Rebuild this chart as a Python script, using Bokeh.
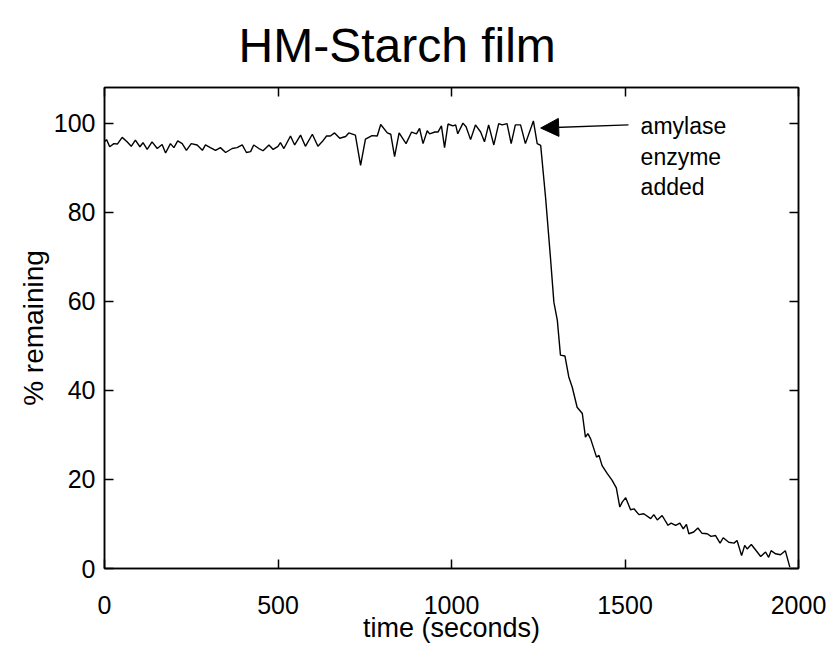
from bokeh.plotting import figure
from bokeh.models import LinearAxis, FixedTicker, Range1d, Arrow, NormalHead, Label
from bokeh.embed import file_html
from bokeh.resources import INLINE

time_s = [0, 6, 15, 27, 37, 51, 65, 77, 89, 102, 111, 123, 137, 152, 166, 176, 190, 200, 211, 224,
          236, 250, 267, 282, 291, 305, 320, 334, 349, 368, 382, 397, 409, 421, 430, 445, 457, 474,
          486, 500, 507, 517, 536, 548, 565, 579, 599, 615, 627, 640, 651, 663, 678, 695, 704, 723,
          738, 752, 771, 786, 796, 815, 825, 836, 849, 869, 885, 899, 908, 918, 930, 937, 952, 961,
          971, 980, 990, 1004, 1012, 1018, 1033, 1042, 1055, 1069, 1084, 1095, 1107, 1122, 1136,
          1146, 1160, 1172, 1184, 1199, 1213, 1236, 1247, 1257, 1271, 1285, 1295, 1305, 1314, 1327,
          1338, 1348, 1362, 1377, 1386, 1393, 1401, 1418, 1425, 1434, 1449, 1463, 1475, 1485, 1492,
          1502, 1516, 1526, 1540, 1554, 1574, 1583, 1593, 1607, 1624, 1633, 1646, 1658, 1668, 1677,
          1684, 1698, 1710, 1722, 1737, 1748, 1761, 1774, 1783, 1799, 1814, 1823, 1836, 1845, 1852,
          1864, 1876, 1891, 1905, 1914, 1921, 1934, 1948, 1962, 1975]
pct_remaining = [95.8, 96.3, 94.7, 95.4, 95.3, 96.8, 95.8, 94.8, 96.2, 94.7, 95.6, 94.1, 95.8, 94.3,
                 95.2, 93.3, 95.4, 94.5, 96.0, 95.4, 93.9, 95.4, 95.1, 93.9, 95.1, 94.5, 93.9, 94.5,
                 93.4, 94.3, 94.5, 95.1, 93.4, 93.6, 95.1, 94.3, 93.8, 95.1, 94.1, 94.8, 95.6, 94.3,
                 97.1, 95.1, 97.3, 94.8, 97.5, 94.8, 95.8, 97.1, 97.1, 97.8, 96.6, 97.0, 97.8, 97.3,
                 90.5, 96.4, 97.2, 97.1, 99.7, 97.8, 97.5, 92.5, 97.8, 95.4, 98.0, 97.6, 98.8, 95.4,
                 98.3, 97.6, 98.0, 98.0, 99.4, 94.5, 99.8, 99.4, 99.6, 97.6, 100.0, 99.2, 96.3, 99.6,
                 98.0, 95.8, 99.6, 95.1, 99.9, 99.6, 99.9, 95.4, 99.6, 99.6, 95.4, 100.5, 95.4, 95.0,
                 83.4, 70.0, 59.8, 55.7, 47.9, 47.7, 43.0, 40.7, 36.2, 34.8, 29.5, 30.3, 29.1, 25.0,
                 25.4, 23.1, 21.3, 19.8, 18.1, 13.8, 14.9, 15.9, 13.2, 13.4, 12.1, 12.3, 11.2, 12.1,
                 10.9, 11.9, 9.7, 10.2, 9.7, 10.2, 8.9, 9.9, 7.8, 8.2, 9.1, 7.9, 7.8, 7.2, 7.4, 5.7,
                 6.9, 5.9, 5.7, 6.3, 2.9, 5.2, 4.4, 5.4, 4.2, 2.7, 3.7, 2.5, 4.0, 3.3, 3.1, 4.0, 0.3]

x_ticks = [0, 500, 1000, 1500, 2000]
y_ticks = [0, 20, 40, 60, 80, 100]
title_text = "HM-Starch film"
x_label = "time (seconds)"
y_label = "% remaining"
note_lines = ["amylase", "enzyme", "added"]
note_pos = (1545, 99.3)
arrow_from = (1510, 99.6)
arrow_to = (1257, 98.9)

FONT = "Liberation Sans"

p = figure(width=827, height=645, output_backend="svg", toolbar_location=None,
           x_range=Range1d(0, 2000), y_range=Range1d(0, 108),
           min_border_left=104, min_border_right=29, min_border_top=87, min_border_bottom=77,
           title=title_text)

p.title.text_font = FONT
p.title.text_font_size = "48px"
p.title.text_font_style = "normal"
p.title.text_color = "black"
p.title.align = "left"
p.title.vertical_align = "top"
p.title.offset = 134
p.title.standoff = 28

p.xgrid.visible = False
p.ygrid.visible = False
p.outline_line_color = "black"
p.outline_line_width = 1.5
p.background_fill_color = "white"
p.border_fill_color = "white"

p.line(time_s, pct_remaining, line_color="black", line_width=1.4)

def style(ax, ticks, labels=True):
    ax.ticker = FixedTicker(ticks=ticks)
    ax.major_tick_in = 9
    ax.major_tick_out = 0
    ax.minor_tick_line_color = None
    ax.axis_line_color = "black"
    ax.axis_line_width = 1.5
    ax.major_tick_line_color = "black"
    ax.major_tick_line_width = 1.5
    ax.major_label_text_font = FONT
    ax.major_label_text_font_size = "25px"
    ax.major_label_text_color = "black"
    ax.axis_label_text_font = FONT
    ax.axis_label_text_font_size = "28px"
    ax.axis_label_text_font_style = "normal"
    ax.axis_label_text_color = "black"
    if not labels:
        ax.major_label_overrides = {t: "" for t in ticks}
        ax.major_label_text_font_size = "0px"
        ax.major_label_standoff = 0

style(p.xaxis[0], x_ticks)
style(p.yaxis[0], y_ticks)
p.xaxis[0].axis_label = x_label
p.xaxis[0].axis_label_text_font_size = "27px"
p.yaxis[0].axis_label = y_label
p.xaxis[0].major_label_standoff = 27
p.xaxis[0].axis_label_standoff = -4
p.yaxis[0].major_label_standoff = 9
p.yaxis[0].axis_label_standoff = 2

top_ax = LinearAxis()
style(top_ax, x_ticks, labels=False)
p.add_layout(top_ax, "above")
right_ax = LinearAxis()
style(right_ax, y_ticks, labels=False)
p.add_layout(right_ax, "right")

p.add_layout(Arrow(end=NormalHead(size=18, fill_color="black", line_color="black"),
                   x_start=arrow_from[0], y_start=arrow_from[1],
                   x_end=arrow_to[0], y_end=arrow_to[1],
                   line_color="black", line_width=1.4))

for i, txt in enumerate(note_lines):
    p.add_layout(Label(x=note_pos[0], y=note_pos[1], text=txt, y_offset=-30.5 * i,
                       text_font=FONT, text_font_size="23px", text_baseline="middle",
                       text_align="left", text_color="black"))

open("out.html", "w").write(file_html(p, INLINE))
